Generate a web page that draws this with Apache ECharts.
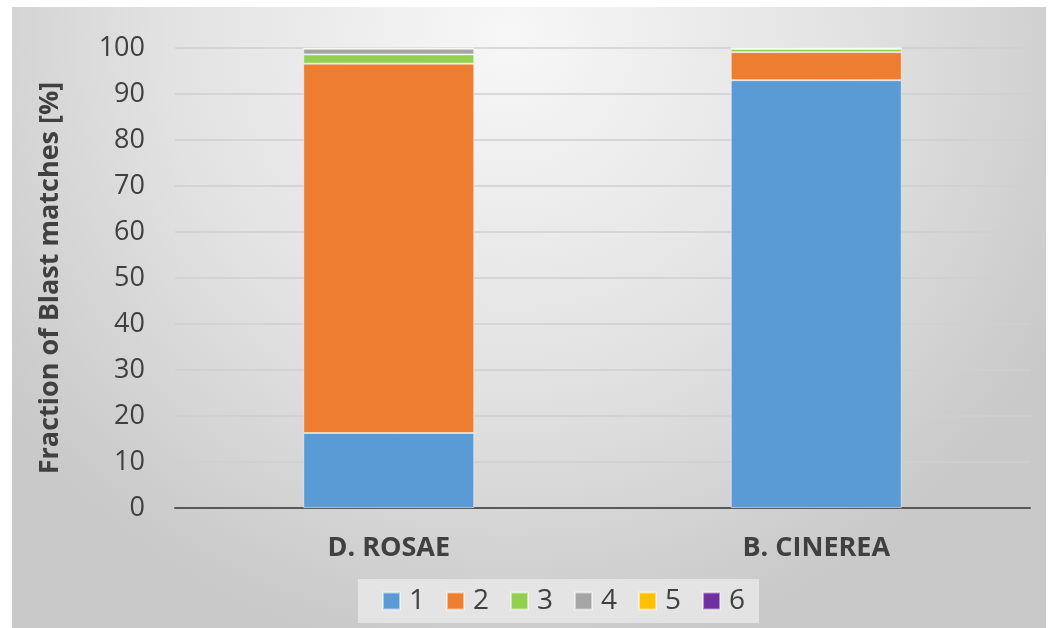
<!DOCTYPE html>
<html><head><meta charset="utf-8">
<script src="https://cdn.jsdelivr.net/npm/echarts@6/dist/echarts.min.js"></script>
<style>html,body{margin:0;padding:0;background:#fff}#c{width:1050px;height:628px}</style>
</head><body><div id="c"></div>
<script>
const categories = ['D. ROSAE', 'B. CINEREA'];
const seriesNames = ['1', '2', '3', '4', '5', '6'];
const s1 = [16.3, 93.0];
const s2 = [80.3, 6.1];
const s3 = [2.0, 0.7];
const s4 = [1.25, 0.1];
const s5 = [0.05, 0.05];
const s6 = [0.1, 0.05];
const colors = ['#5b9bd5', '#ed7d31', '#92d050', '#a5a5a5', '#ffc000', '#7030a0'];
const values = [s1, s2, s3, s4, s5, s6];
const font = '"Open Sans", sans-serif';

const chart = echarts.init(document.getElementById('c'));
chart.setOption({
  backgroundColor: '#ffffff',
  animation: false,
  graphic: [{
    type: 'rect', z: -10, silent: true,
    shape: {x: 12, y: 7, width: 1034, height: 621},
    style: {fill: {type: 'radial', x: 0.48, y: 0.05, r: 1.0,
      colorStops: [{offset: 0, color: '#f7f7f7'}, {offset: 0.55, color: '#e2e2e2'}, {offset: 1, color: '#c9c9c9'}]}}
  }],
  grid: {left: 175, right: 20, top: 48, bottom: 120, containLabel: false},
  legend: {
    data: seriesNames, bottom: 5, left: 358,
    itemWidth: 17, itemHeight: 17, itemGap: 21,
    padding: [8, 14, 8, 24],
    backgroundColor: 'rgba(232,232,232,0.85)',
    textStyle: {fontFamily: font, fontSize: 28, color: '#404040', padding: [0, 0, 0, 4]},
    icon: 'rect'
  },
  xAxis: {
    type: 'category', data: categories,
    axisLine: {lineStyle: {color: '#595959', width: 2}},
    axisTick: {show: false},
    axisLabel: {fontFamily: font, fontSize: 27, fontWeight: 'bold', color: '#404040', margin: 27}
  },
  yAxis: {
    type: 'value', min: 0, max: 100, interval: 10,
    name: 'Fraction of Blast matches [%]', nameLocation: 'middle', nameGap: 111,
    nameTextStyle: {fontFamily: font, fontSize: 27, fontWeight: 'bold', color: '#404040'},
    axisLine: {show: false}, axisTick: {show: false},
    axisLabel: {fontFamily: font, fontSize: 27, color: '#404040', margin: 30},
    splitLine: {lineStyle: {color: '#cfcfcf', width: 1.5}}
  },
  series: values.map((v, i) => ({
    name: seriesNames[i], type: 'bar', stack: 'a', data: v, barWidth: '40%',
    itemStyle: {color: colors[i], borderColor: 'rgba(255,255,255,0.5)', borderWidth: 1}
  }))
});
</script></body></html>
